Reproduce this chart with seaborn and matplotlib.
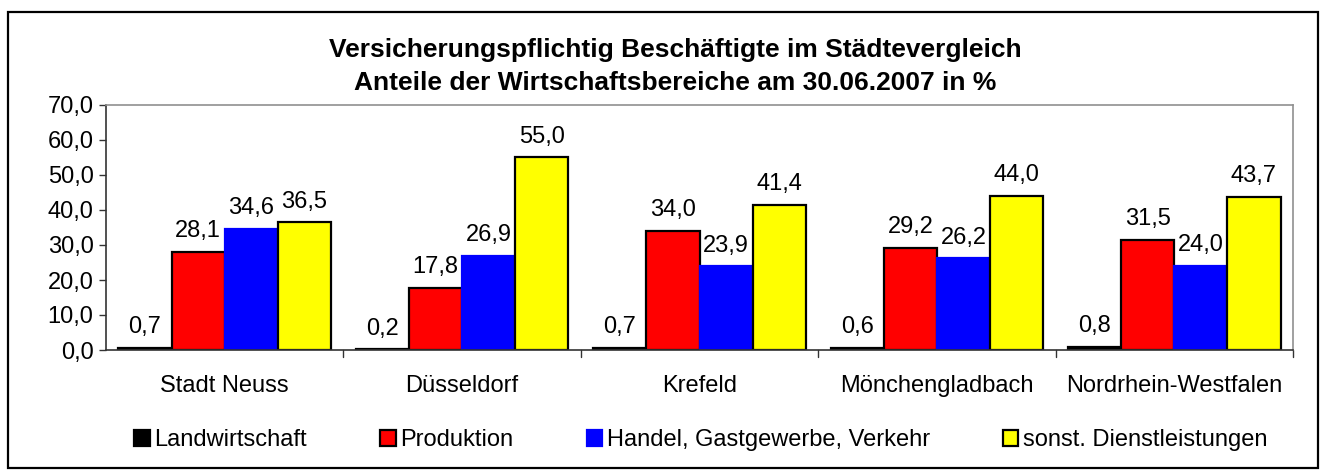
import seaborn as sns
import matplotlib.pyplot as plt
import pandas as pd
from matplotlib.patches import Rectangle, Patch
from matplotlib.ticker import FuncFormatter

orte = ["Stadt Neuss", "Düsseldorf", "Krefeld", "Mönchengladbach", "Nordrhein-Westfalen"]
bereiche = ["Landwirtschaft", "Produktion", "Handel, Gastgewerbe, Verkehr", "sonst. Dienstleistungen"]
landwirtschaft = [0.7, 0.2, 0.7, 0.6, 0.8]
produktion = [28.1, 17.8, 34.0, 29.2, 31.5]
handel = [34.6, 26.9, 23.9, 26.2, 24.0]
dienstleistungen = [36.5, 55.0, 41.4, 44.0, 43.7]
farben = ["#000000", "#ff0000", "#0000ff", "#ffff00"]
kanten = ["#000000", "#000000", "#0000ff", "#000000"]

rows = []
for b, werte in zip(bereiche, [landwirtschaft, produktion, handel, dienstleistungen]):
    for o, w in zip(orte, werte):
        rows.append({"Ort": o, "Bereich": b, "Wert": w})
df = pd.DataFrame(rows)

sns.set_style("white")
plt.rcParams['font.family'] = ['Liberation Sans', 'DejaVu Sans']
plt.rcParams['text.color'] = 'black'
plt.rcParams['xtick.color'] = 'black'
plt.rcParams['ytick.color'] = 'black'
plt.rcParams['axes.labelcolor'] = 'black'

fig = plt.figure(figsize=(13.24, 4.75), dpi=100)
ax = fig.add_axes([106 / 1324, 1 - 350 / 475, (1293 - 106) / 1324, (350 - 105) / 475])

sns.barplot(data=df, x="Ort", y="Wert", hue="Bereich", hue_order=bereiche,
            palette=farben, width=0.895, ax=ax, legend=False, saturation=1)

def komma(v):
    return f"{v:.1f}".replace(".", ",")

for cont, kante in zip(ax.containers, kanten):
    for bar in cont:
        bar.set_edgecolor(kante)
        bar.set_linewidth(1.6)
    ax.bar_label(cont, labels=[komma(b.get_height()) for b in cont],
                 padding=7, fontsize=17, color="black")

ax.set_ylim(0, 70)
ax.set_xlim(-0.5, 4.5)
ax.set_yticks(range(0, 71, 10))
ax.yaxis.set_major_formatter(FuncFormatter(lambda v, p: komma(v)))
ax.tick_params(axis="y", labelsize=17, length=5, width=1, color="#333333",
               labelcolor="black", direction="out", left=True, pad=4)
ax.set_xticks(range(5))
ax.set_xticklabels(orte, fontsize=17)
ax.tick_params(axis="x", length=0, pad=18, labelcolor="black")
for x in [0.5, 1.5, 2.5, 3.5, 4.5]:
    ax.plot([x, x], [0, -0.03], transform=ax.get_xaxis_transform(), color="#333333",
            lw=1, clip_on=False)
ax.set_xlabel("")
ax.set_ylabel("")
for s in ["top", "right"]:
    ax.spines[s].set_color("#909090")
    ax.spines[s].set_linewidth(1.2)
for s in ["left", "bottom"]:
    ax.spines[s].set_color("#333333")
    ax.spines[s].set_linewidth(1.2)

fig.text(0.51, 1 - 50 / 475, "Versicherungspflichtig Beschäftigte im Städtevergleich",
         ha="center", va="center", fontsize=19, fontweight="bold")
fig.text(0.51, 1 - 83 / 475, "Anteile der Wirtschaftsbereiche am 30.06.2007 in %",
         ha="center", va="center", fontsize=19, fontweight="bold")

handles = [Patch(facecolor=f, edgecolor=k, linewidth=1.6) for f, k in zip(farben, kanten)]
fig.legend(handles, bereiche, loc="center", bbox_to_anchor=(701 / 1324, 1 - 440 / 475),
           ncol=4, frameon=False, fontsize=17, handlelength=0.65, handleheight=0.65,
           handletextpad=0.2, columnspacing=3.1)

fig.patches.append(Rectangle((8 / 1324, 1 - 468 / 475), 1310 / 1324, 456 / 475,
                             transform=fig.transFigure, fill=False, edgecolor="black",
                             linewidth=1.6))

fig.savefig("out.png", dpi=100)
